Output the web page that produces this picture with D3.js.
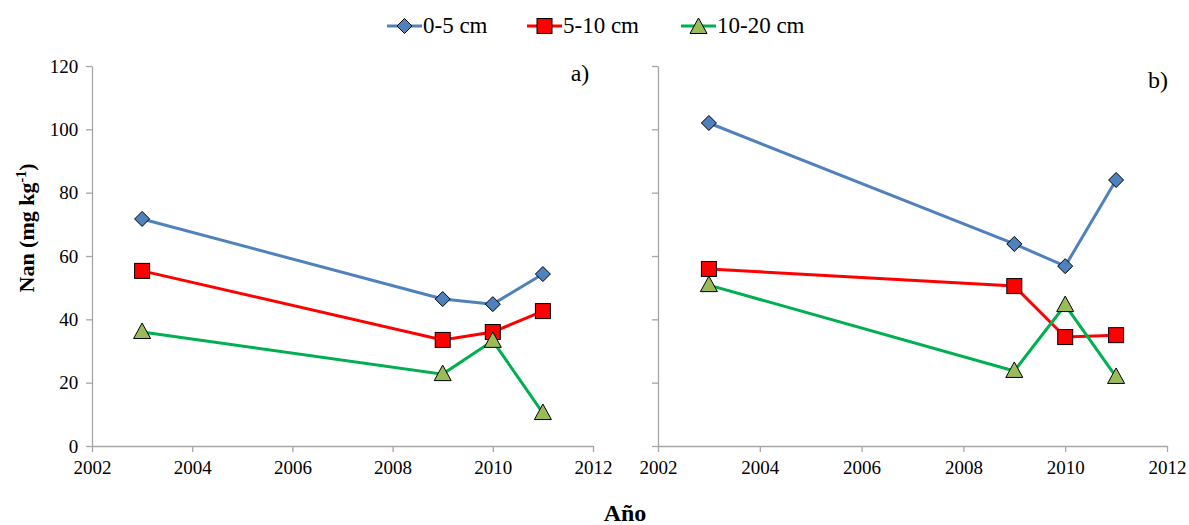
<!DOCTYPE html>
<html>
<head>
<meta charset="utf-8">
<script src="https://cdn.jsdelivr.net/npm/d3@7"></script>
<style>
  body { margin: 0; background: #fff; }
  svg text { font-family: "Liberation Serif", "Times New Roman", serif; }
  .tick text { font-size: 19px; fill: #000; }
</style>
</head>
<body>
<div class="canvas"></div>
<script>
// data
const years = [2003, 2009, 2010, 2011];
const seriesNames = ["0-5 cm", "5-10 cm", "10-20 cm"];
const panelA = [
  [71.7, 46.4, 44.8, 54.3],
  [55.3, 33.5, 36.0, 42.6],
  [36.0, 22.7, 33.2, 10.4]
];
const panelB = [
  [102.0, 63.8, 56.8, 84.0],
  [55.9, 50.5, 34.4, 35.0],
  [50.8, 23.7, 44.5, 21.8]
];
const xTicks = [2002, 2004, 2006, 2008, 2010, 2012];
const yTicks = [0, 20, 40, 60, 80, 100, 120];

const lineColors = ["#4F81BD", "#FF0000", "#00B050"];
const markFill = ["#4F81BD", "#FF0000", "#9BBB59"];
const axisColor = "#a6a6a6";

const svg = d3.select(".canvas").append("svg").attr("width", 1189).attr("height", 525)
  .attr("font-family", "Liberation Serif");

const y = d3.scaleLinear().domain([0, 120]).range([446, 66]);

function marker(g, i, cx, cy) {
  if (i === 0) {
    const s = 7.5;
    g.append("path")
      .attr("d", `M${cx},${cy - s}L${cx + s},${cy}L${cx},${cy + s}L${cx - s},${cy}Z`)
      .attr("fill", markFill[i]).attr("stroke", "#000").attr("stroke-width", 1);
  } else if (i === 1) {
    const s = 7.5;
    g.append("rect")
      .attr("x", cx - s).attr("y", cy - s).attr("width", 2 * s).attr("height", 2 * s)
      .attr("fill", markFill[i]).attr("stroke", "#000").attr("stroke-width", 1);
  } else {
    g.append("path")
      .attr("d", `M${cx},${cy - 9}L${cx + 8.5},${cy + 6.5}L${cx - 8.5},${cy + 6.5}Z`)
      .attr("fill", markFill[i]).attr("stroke", "#000").attr("stroke-width", 1);
  }
}

function panel(x0, x1, data, showYLabels, label, lx, ly) {
  const x = d3.scaleLinear().domain([2002, 2012]).range([x0, x1]);
  const g = svg.append("g");

  const xAxis = g.append("g").attr("transform", `translate(0,${y(0)})`)
    .call(d3.axisBottom(x).tickValues(xTicks).tickFormat(d3.format("d")).tickSize(6).tickSizeOuter(0));
  const yAxis = g.append("g").attr("transform", `translate(${x0},0)`)
    .call(d3.axisLeft(y).tickValues(yTicks).tickSize(6).tickSizeOuter(0)
      .tickFormat(showYLabels ? d3.format("d") : ""));
  [xAxis, yAxis].forEach(a => {
    a.attr("font-family", "Liberation Serif").attr("font-size", 19);
    a.selectAll("path, line").attr("stroke", axisColor).attr("stroke-width", 1.3);
  });
  xAxis.selectAll("text").attr("dy", "1.0em");
  yAxis.selectAll("text").attr("dx", "-0.25em");

  const line = d3.line().x((d, i) => x(years[i])).y(d => y(d));
  data.forEach((vals, s) => {
    g.append("path").datum(vals).attr("d", line)
      .attr("fill", "none").attr("stroke", lineColors[s]).attr("stroke-width", 3);
  });
  data.forEach((vals, s) => {
    vals.forEach((v, i) => marker(g, s, x(years[i]), y(v)));
  });

  g.append("text").attr("x", lx).attr("y", ly).attr("text-anchor", "middle")
    .attr("font-size", 24).text(label);
}

panel(92, 593, panelA, true, "a)", 580, 81);
panel(658, 1167, panelB, false, "b)", 1158, 88);

// axis titles
const yt = svg.append("text")
  .attr("transform", "translate(34,228) rotate(-90)")
  .attr("text-anchor", "middle")
  .attr("font-size", 22).attr("font-weight", "bold");
yt.append("tspan").text("Nan (mg kg");
yt.append("tspan").attr("dy", -8).attr("font-size", 14).text("-1");
yt.append("tspan").attr("dy", 8).text(")");

svg.append("text").attr("x", 625).attr("y", 521).attr("text-anchor", "middle")
  .attr("font-size", 24).attr("font-weight", "bold").text("Año");

// legend
const legendX = [387, 527, 681];
seriesNames.forEach((name, i) => {
  const lg = svg.append("g");
  const lx = legendX[i];
  lg.append("line").attr("x1", lx).attr("x2", lx + 35).attr("y1", 26).attr("y2", 26)
    .attr("stroke", lineColors[i]).attr("stroke-width", 3);
  marker(lg, i, lx + 17.5, i === 2 ? 27 : 26);
  lg.append("text").attr("x", lx + 36).attr("y", 33)
    .attr("font-size", 23).text(name);
});
</script>
</body>
</html>
